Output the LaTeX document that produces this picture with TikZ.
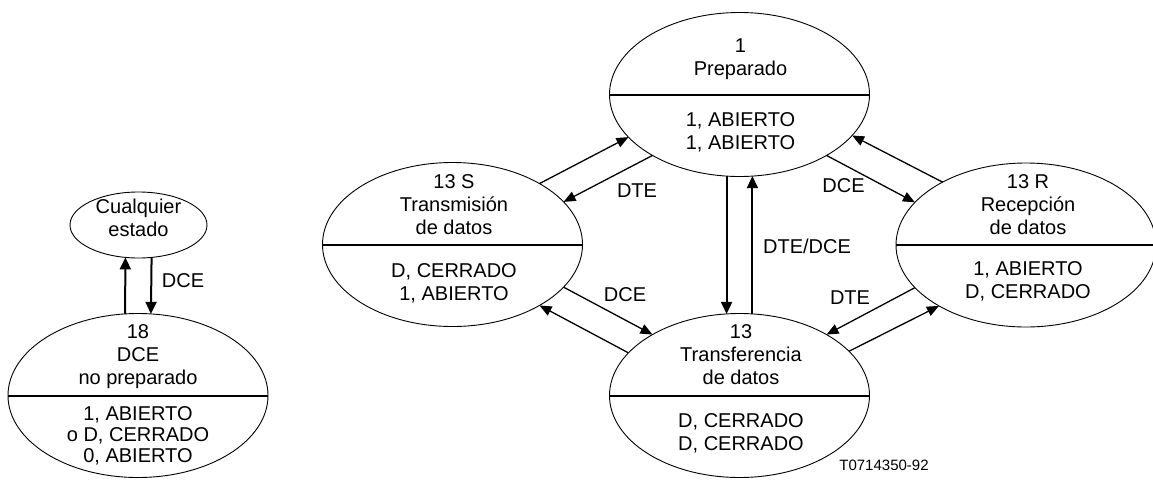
\documentclass[tikz,border=0pt]{standalone}
\usepackage{fontspec}
\setmainfont{Liberation Sans}
\usetikzlibrary{arrows.meta,shapes.geometric}
\begin{document}
\begin{tikzpicture}[x=1pt,y=-1pt,
  state/.style={draw, ellipse, line width=0.9pt, minimum width=260pt, minimum height=164pt, inner sep=0pt, outer sep=0pt},
  txt/.style={align=center, inner sep=0pt, font=\fontsize{20}{23}\selectfont},
  lbl/.style={inner sep=0pt, anchor=base, font=\fontsize{20}{23}\selectfont},
  divider/.style={line width=2pt},
  arr/.style={line width=1.3pt, -{Triangle[length=12pt,width=10pt]}},
  varr/.style={line width=2pt, -{Triangle[length=12pt,width=11pt]}},
]
\useasboundingbox (0,0) rectangle (1153,480);

% left panel
\node[state, minimum width=137pt, minimum height=66pt] (cq) at (138.5,225) {};
\node[state] (n18) at (138,395.5) {};
\draw[divider] (n18.west) -- (n18.east);
\node[txt] (cqt) at (138.5,219.9) {\strut Cualquier\\\strut estado};
\node[txt] (n18t) at (138,356.4) {\strut 18\\\strut DCE\\\strut no preparado};
\node[txt, font=\fontsize{20}{21}\selectfont] (n18b) at (138,436.8) {\strut 1, ABIERTO\\\strut o D, CERRADO\\\strut 0, ABIERTO};
\draw[varr] (n18.99) -- (cq.248);
\draw[varr] (cq.292) -- (n18.81);
\node[lbl] (l1) at (183,287) {DCE};

% main states
\node[state] (prep) at (739.5,94.5) {};
\node[state] (tx) at (452.5,244.5) {};
\node[state] (tr) at (739.5,395.5) {};
\node[state] (rx) at (1026,245) {};
\foreach \n in {prep,tx,tr,rx} \draw[divider] (\n.west) -- (\n.east);

\node[txt] (prept) at (740.5,58.9) {\strut 1\\\strut Preparado};
\node[txt] (prepb) at (740.5,132.9) {\strut 1, ABIERTO\\\strut 1, ABIERTO};
\node[txt] (txt1) at (454,206.4) {\strut 13 S\\\strut Transmisión\\\strut de datos};
\node[txt] (txb) at (454,283.9) {\strut D, CERRADO\\\strut 1, ABIERTO};
\node[txt] (trt) at (741,356.4) {\strut 13\\\strut Transferencia\\\strut de datos};
\node[txt] (trb) at (741,433.9) {\strut D, CERRADO\\\strut D, CERRADO};
\node[txt] (rxt) at (1028,206.4) {\strut 13 R\\\strut Recepción\\\strut de datos};
\node[txt] (rxb) at (1028,281.9) {\strut 1, ABIERTO\\\strut D, CERRADO};

% connectors
\draw[varr] (prep.261) -- (tr.99);
\draw[varr] (tr.81) -- (prep.279);
\draw[arr] (tx.35) -- (prep.201);
\draw[arr] (prep.215) -- (tx.21);
\draw[arr] (prep.325) -- (rx.159);
\draw[arr] (rx.143) -- (prep.340);
\draw[arr] (tx.339) -- (tr.145);
\draw[arr] (tr.159) -- (tx.325);
\draw[arr] (rx.201) -- (tr.35);
\draw[arr] (tr.22) -- (rx.215);

\node[lbl] (l2) at (637,197) {DTE};
\node[lbl] (l3) at (843.5,192) {DCE};
\node[lbl] (l4) at (807,253) {DTE/DCE};
\node[lbl] (l5) at (625,301.5) {DCE};
\node[lbl] (l6) at (850,304) {DTE};
\node[lbl, font=\fontsize{15}{18}\selectfont] (code) at (884,470) {T0714350-92};
\end{tikzpicture}
\end{document}
